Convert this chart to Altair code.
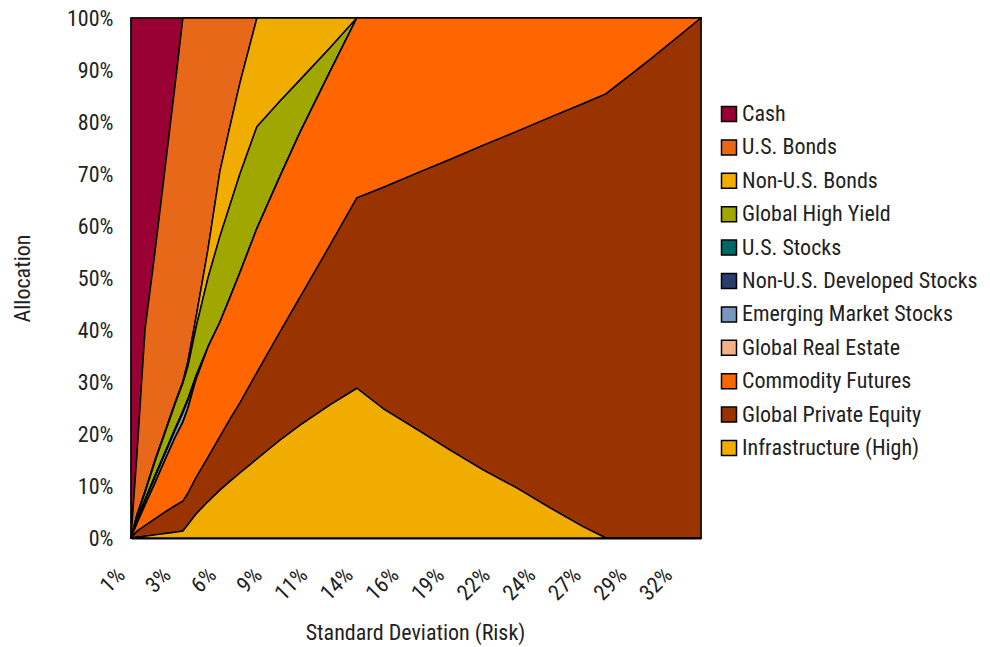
import altair as alt
import pandas as pd

# Portfolio standard deviation (risk, %) along the efficient frontier
risk = [1.20, 1.54, 2.00, 2.57, 3.14, 3.71, 4.16, 4.45, 4.91, 5.59, 6.27, 6.84,
        7.41, 8.38, 9.69, 10.84, 12.55, 14.08, 15.57, 17.68, 19.39, 21.27,
        23.21, 25.09, 26.97, 28.28, 30.79, 33.70]

# Allocation (%) per asset class at each risk level
cash = [100, 84, 60, 45, 29, 13, 0, 0, 0, 0, 0, 0, 0, 0, 0, 0, 0, 0, 0, 0, 0, 0, 0, 0, 0, 0, 0, 0]
us_bonds = [0, 11.5, 31.0, 40.0, 50.5, 61.0, 69.9, 66.0, 57.5, 44.5, 29.5, 20.9, 12.5, 0,
            0, 0, 0, 0, 0, 0, 0, 0, 0, 0, 0, 0, 0, 0]
non_us_bonds = [0, 0.3, 0.3, 0.3, 0.3, 0.3, 0.3, 1.0, 2.0, 5.5, 12.5, 15.1, 17.5, 20.9,
                16.0, 11.9, 5.7, 0, 0, 0, 0, 0, 0, 0, 0, 0, 0, 0]
global_high_yield = [0, 0.6, 1.3, 2.7, 3.7, 4.7, 5.4, 6.2, 9.3, 13.3, 16.5, 17.8, 19.0, 19.6,
                     14.5, 10.1, 4.6, 0, 0, 0, 0, 0, 0, 0, 0, 0, 0, 0]
us_stocks = [0, 0.15, 0.15, 0.15, 0.15, 0.15, 0.15, 0.15, 0.1, 0, 0, 0, 0, 0,
             0, 0, 0, 0, 0, 0, 0, 0, 0, 0, 0, 0, 0, 0]
non_us_dev_stocks = [0, 0.15, 0.15, 0.15, 0.15, 0.15, 0.15, 0.15, 0.1, 0, 0, 0, 0, 0,
                     0, 0, 0, 0, 0, 0, 0, 0, 0, 0, 0, 0, 0, 0]
em_stocks = [0, 0.5, 0.8, 1.1, 1.2, 1.4, 1.8, 1.5, 0.5, 0, 0, 0, 0, 0,
             0, 0, 0, 0, 0, 0, 0, 0, 0, 0, 0, 0, 0, 0]
global_real_estate = [0] * 28
commodity_futures = [0, 1.5, 3.9, 6.9, 10.0, 13.1, 15.2, 16.4, 18.9, 21.2, 22.0, 23.4, 25.0, 27.7,
                     29.9, 31.7, 33.4, 34.6, 32.6, 29.6, 27.2, 24.5, 21.8, 19.1, 16.5, 14.6, 8.0, 0]
global_private_equity = [0, 1.15, 2.05, 3.1, 4.15, 5.1, 5.75, 6.0, 7.0, 8.5, 10.3, 11.9, 13.5, 16.6,
                         20.8, 24.6, 30.7, 36.6, 42.5, 49.9, 55.9, 62.4, 68.6, 75.1, 81.3, 85.4, 92.0, 100]
infrastructure = [0, 0.15, 0.35, 0.6, 0.85, 1.1, 1.35, 2.6, 4.6, 7.0, 9.2, 10.9, 12.5, 15.2,
                  18.8, 21.7, 25.6, 28.8, 24.9, 20.5, 16.9, 13.1, 9.6, 5.8, 2.2, 0, 0, 0]

# Legend order (top to bottom) and fill colours
asset_classes = ["Cash", "U.S. Bonds", "Non-U.S. Bonds", "Global High Yield", "U.S. Stocks",
                 "Non-U.S. Developed Stocks", "Emerging Market Stocks", "Global Real Estate",
                 "Commodity Futures", "Global Private Equity", "Infrastructure (High)"]
colors = ["#990033", "#E8681A", "#F0AD00", "#A0A800", "#006666", "#283C6E", "#7896BE",
          "#F4B088", "#FF6600", "#993300", "#F0AD00"]
series = [cash, us_bonds, non_us_bonds, global_high_yield, us_stocks, non_us_dev_stocks,
          em_stocks, global_real_estate, commodity_futures, global_private_equity, infrastructure]

# Labelled risk levels on the horizontal axis
tick_values = [1.2, 3.8, 6.4, 9.0, 11.6, 14.2, 16.8, 19.4, 22.0, 24.6, 27.2, 29.8, 32.4]

rows = []
for i, (name, vals) in enumerate(zip(asset_classes, series)):
    stack_pos = len(asset_classes) - 1 - i  # infrastructure sits at the bottom
    for r, v in zip(risk, vals):
        rows.append({"risk": r, "asset": name, "alloc": v / 100.0, "stack": stack_pos})
df = pd.DataFrame(rows)

FONT = "Roboto Condensed, Liberation Sans Narrow, DejaVu Sans Condensed, Liberation Sans, sans-serif"
FS = 22

chart = alt.Chart(df).mark_area(
    stroke="black", strokeWidth=1.5, interpolate="linear", strokeJoin="round"
).encode(
    x=alt.X("risk:Q",
            scale=alt.Scale(domain=[1.2, 33.7], nice=False, zero=False),
            axis=alt.Axis(values=tick_values, labelExpr="floor(datum.value) + '%'",
                          labelAngle=315, labelAlign="right", labelBaseline="middle",
                          labelPadding=33, labelOffset=-10, ticks=False, grid=False,
                          domain=True, domainColor="black", domainWidth=2,
                          title="Standard Deviation (Risk)", titleX=284, titleY=94,
                          titleBaseline="middle", titleAlign="center")),
    y=alt.Y("alloc:Q", stack="zero",
            scale=alt.Scale(domain=[0, 1], nice=False),
            axis=alt.Axis(format=".0%", values=[i / 10 for i in range(11)], ticks=False,
                          grid=False, domain=False, labelPadding=18,
                          title="Allocation", titleX=-109, titleY=260, titleAngle=270,
                          titleAlign="center", titleBaseline="middle")),
    color=alt.Color("asset:N",
                    scale=alt.Scale(domain=asset_classes, range=colors),
                    legend=alt.Legend(title=None, orient="none", legendX=587, legendY=85,
                                      symbolType="square", symbolSize=225,
                                      symbolStrokeColor="black", symbolStrokeWidth=1.5,
                                      symbolOpacity=1, labelFontSize=FS, labelFont=FONT,
                                      labelColor="#222", rowPadding=11.4, labelOffset=2,
                                      labelLimit=400, padding=0)),
    order=alt.Order("stack:Q", sort="ascending"),
).properties(
    width=570, height=520,
    autosize=alt.AutoSizeParams(type="none"),
    padding={"left": 131, "top": 18, "right": 289, "bottom": 109},
).configure_view(
    stroke="#555", strokeWidth=1.5
).configure_axis(
    labelFont=FONT, labelFontSize=FS, labelColor="#222",
    titleFont=FONT, titleFontSize=FS, titleFontWeight="normal", titleColor="#222"
)

chart.save("out.html", embed_options={"renderer": "svg", "actions": False})
